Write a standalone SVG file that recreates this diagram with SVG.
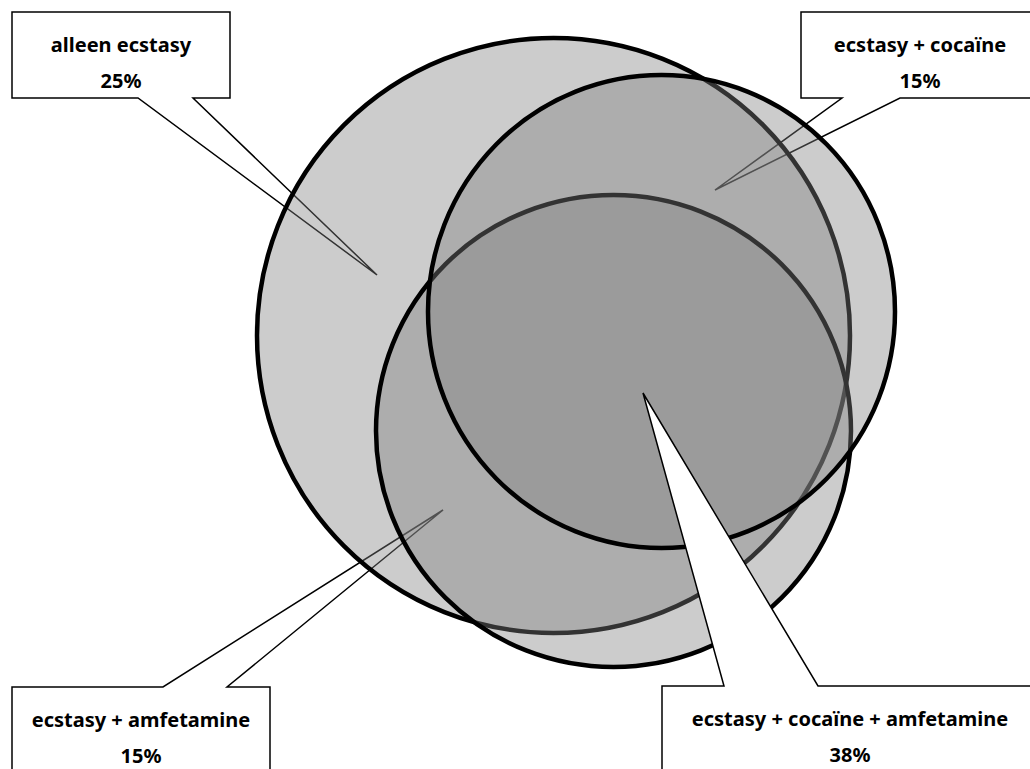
<svg xmlns="http://www.w3.org/2000/svg" width="1030" height="769" viewBox="0 0 1030 769">
  <style>
    .set { fill: #808080; fill-opacity: 0.4; stroke: #000; stroke-width: 4.5; }
    .callout { fill: #fff; stroke: #000; stroke-width: 1.5; stroke-linejoin: miter; }
    .lbl { font-family: "Noto Sans", "Liberation Sans", sans-serif; font-weight: bold; font-size: 20px; fill: #000; text-anchor: middle; }
  </style>
  <rect x="0" y="0" width="1030" height="769" fill="#fff"/>
  <g id="callout-alleen-ecstasy">
    <polygon class="callout" points="12,12 230,12 230,98 193,98 377,275 138,98 12,98"/>
    <text class="lbl" x="121" y="52">alleen ecstasy</text>
    <text class="lbl" x="121" y="88">25%</text>
  </g>
  <g id="callout-ecstasy-cocaine">
    <polygon class="callout" points="801,12 1040,12 1040,98 900,98 715,190 842,98 801,98"/>
    <text class="lbl" x="920" y="52">ecstasy + cocaïne</text>
    <text class="lbl" x="920" y="88">15%</text>
  </g>
  <g id="callout-ecstasy-amfetamine">
    <polygon class="callout" points="12,687 163,687 443,510 227,687 270,687 270,775 12,775"/>
    <text class="lbl" x="141" y="727">ecstasy + amfetamine</text>
    <text class="lbl" x="141" y="763">15%</text>
  </g>
  <g id="set-ecstasy">
    <ellipse class="set" cx="553.5" cy="335.5" rx="296.5" ry="297.5"/>
  </g>
  <g id="set-amfetamine">
    <ellipse class="set" cx="613.5" cy="431" rx="237.5" ry="236"/>
  </g>
  <g id="set-cocaine">
    <ellipse class="set" cx="661.5" cy="311.5" rx="233.5" ry="236.5"/>
  </g>
  <g id="callout-all-three">
    <polygon class="callout" points="662,686 724,686 643,393 818,686 1040,686 1040,775 662,775"/>
    <text class="lbl" x="850" y="726">ecstasy + cocaïne + amfetamine</text>
    <text class="lbl" x="850" y="762">38%</text>
  </g>
  <g id="connectors"/>
</svg>
